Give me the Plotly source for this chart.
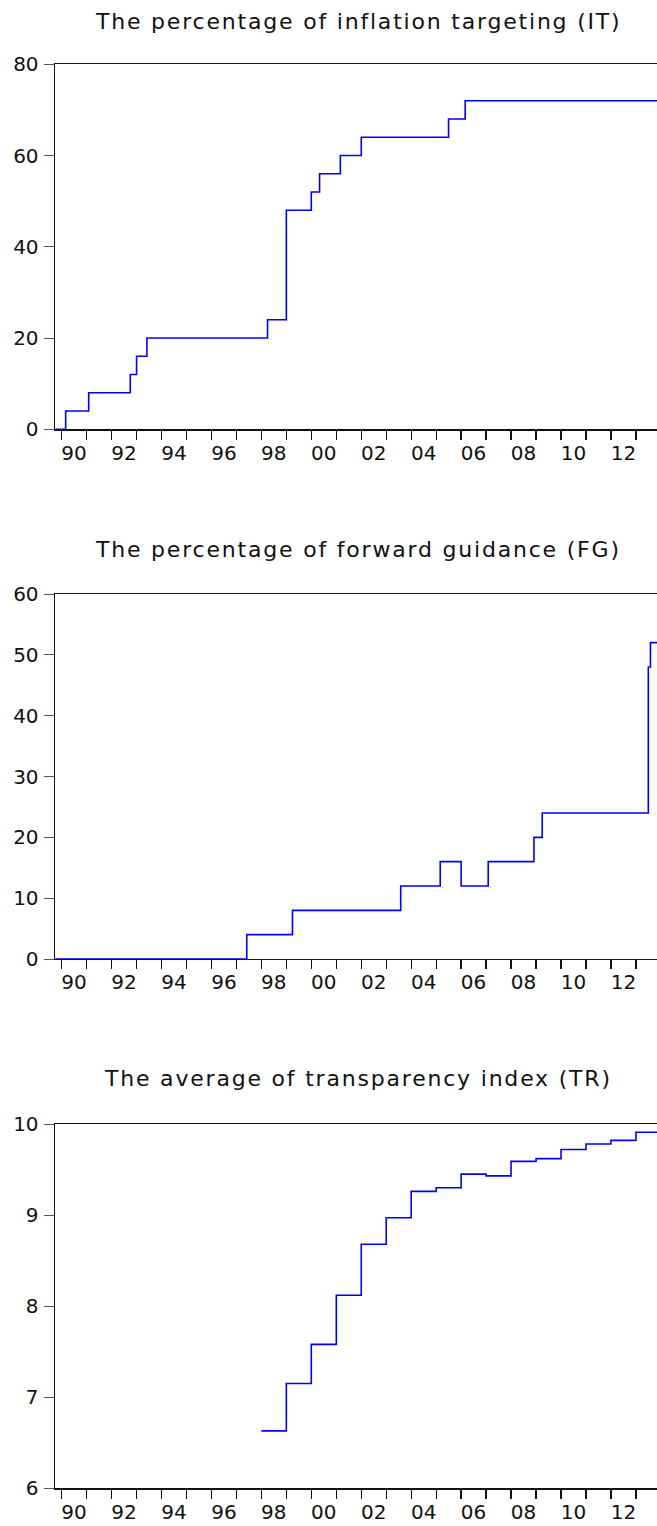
import plotly.graph_objects as go

# ---------------- data ----------------
# Monthly step series: date at which a new level starts, and the level
it_dates = ["1989-10-01", "1990-03-01", "1991-02-01", "1992-10-01", "1993-01-01",
            "1993-06-01", "1998-04-01", "1999-01-01", "2000-01-01", "2000-05-01",
            "2001-03-01", "2002-01-01", "2005-07-01", "2006-03-01", "2013-12-01"]
it_values = [0, 4, 8, 12, 16, 20, 24, 48, 52, 56, 60, 64, 68, 72, 72]

fg_dates = ["1989-10-01", "1997-06-01", "1999-04-01", "2003-08-01", "2005-03-01",
            "2006-01-01", "2007-02-01", "2008-12-01", "2009-04-01", "2013-07-01",
            "2013-08-01", "2013-12-01"]
fg_values = [0, 4, 8, 12, 16, 12, 16, 20, 24, 48, 52, 52]

tr_dates = ["1998-01-01", "1999-01-01", "2000-01-01", "2001-01-01", "2002-01-01",
            "2003-01-01", "2004-01-01", "2005-01-01", "2006-01-01", "2007-01-01",
            "2008-01-01", "2009-01-01", "2010-01-01", "2011-01-01", "2012-01-01",
            "2013-01-01", "2013-12-01"]
tr_values = [6.63, 7.15, 7.58, 8.12, 8.68, 8.97, 9.26, 9.30, 9.45, 9.43,
             9.59, 9.62, 9.72, 9.78, 9.82, 9.91, 9.91]

titles = ["The percentage of inflation targeting (IT)",
          "The percentage of forward guidance (FG)",
          "The average of transparency index (TR)"]

label_years = list(range(1990, 2013, 2))
x_tick_labels = [f"{y % 100:02d}" for y in label_years]
x_label_pos = [f"{y}-07-02" for y in label_years]
year_ticks = [f"{y}-01-01" for y in range(1990, 2014)]

it_yticks = [0, 20, 40, 60, 80]
fg_yticks = [0, 10, 20, 30, 40, 50, 60]
tr_yticks = [6, 7, 8, 9, 10]

# ---------------- layout ----------------
W, H = 657, 1526
FONT = "DejaVu Sans"
INK = "#111111"
BLUE = "#0000FF"
X_RANGE = ["1989-09-26", "2013-11-05"]

# panel pixel extents (top, bottom)
panels = [(64.3, 429.3), (594.0, 959.0), (1124.0, 1488.3)]
title_y = [21, 549, 1078]


def dom(top, bottom):
    return [1 - bottom / H, 1 - top / H]


fig = go.Figure()
series = [(it_dates, it_values), (fg_dates, fg_values), (tr_dates, tr_values)]
for i, (xs, ys) in enumerate(series):
    sfx = "" if i == 0 else str(i + 1)
    fig.add_trace(go.Scatter(x=xs, y=ys, mode="lines",
                             line=dict(color=BLUE, width=1.6, shape="hv"),
                             xaxis="x" + sfx, yaxis="y" + sfx,
                             hoverinfo="skip", showlegend=False))

yranges = [[0, 80], [0, 60], [6, 10]]
yticks = [it_yticks, fg_yticks, tr_yticks]

layout = dict(template="none", width=W, height=H,
              margin=dict(l=55, r=0, t=0, b=0, autoexpand=False),
              paper_bgcolor="white", plot_bgcolor="white",
              showlegend=False, hovermode=False,
              font=dict(family=FONT, size=20, color=INK))

for i in range(3):
    sfx = "" if i == 0 else str(i + 1)
    top, bottom = panels[i]
    layout["xaxis" + sfx] = dict(
        type="date", range=X_RANGE, domain=[0, 1], anchor="y" + sfx,
        automargin=False,
        tickmode="array", tickvals=x_label_pos, ticktext=x_tick_labels,
        ticks="", ticklabelstandoff=5,
        showline=True, linecolor=INK, linewidth=1.4, mirror=True,
        showgrid=False, zeroline=False, layer="below traces",
        tickfont=dict(family=FONT, size=20, color=INK),
        minor=dict(tickmode="array", tickvals=year_ticks, ticks="outside",
                   ticklen=9, tickwidth=1.3, tickcolor=INK, showgrid=False),
        fixedrange=True)
    layout["yaxis" + sfx] = dict(
        range=yranges[i], domain=dom(top, bottom), anchor="x" + sfx,
        automargin=False,
        tickmode="array", tickvals=yticks[i],
        ticks="outside", ticklen=10, tickwidth=1, tickcolor="#555555",
        ticklabelstandoff=1,
        showline=True, linecolor=INK, linewidth=1.4, mirror=False,
        showgrid=False, zeroline=False, layer="below traces",
        tickfont=dict(family=FONT, size=20, color=INK),
        fixedrange=True)

annotations = []
for i in range(3):
    annotations.append(dict(
        text=f'<span style="letter-spacing:1.8px">{titles[i]}</span>',
        xref="paper", yref="paper", x=(358 - 55) / (W - 55), y=1 - title_y[i] / H,
        xanchor="center", yanchor="middle", showarrow=False,
        font=dict(family=FONT, size=22, color=INK)))
layout["annotations"] = annotations

fig.update_layout(**layout)
fig.write_html("out.html",
               config={"displayModeBar": False, "staticPlot": True},
               post_script="document.body.style.margin='0';"
                           "document.body.style.overflow='hidden';")
